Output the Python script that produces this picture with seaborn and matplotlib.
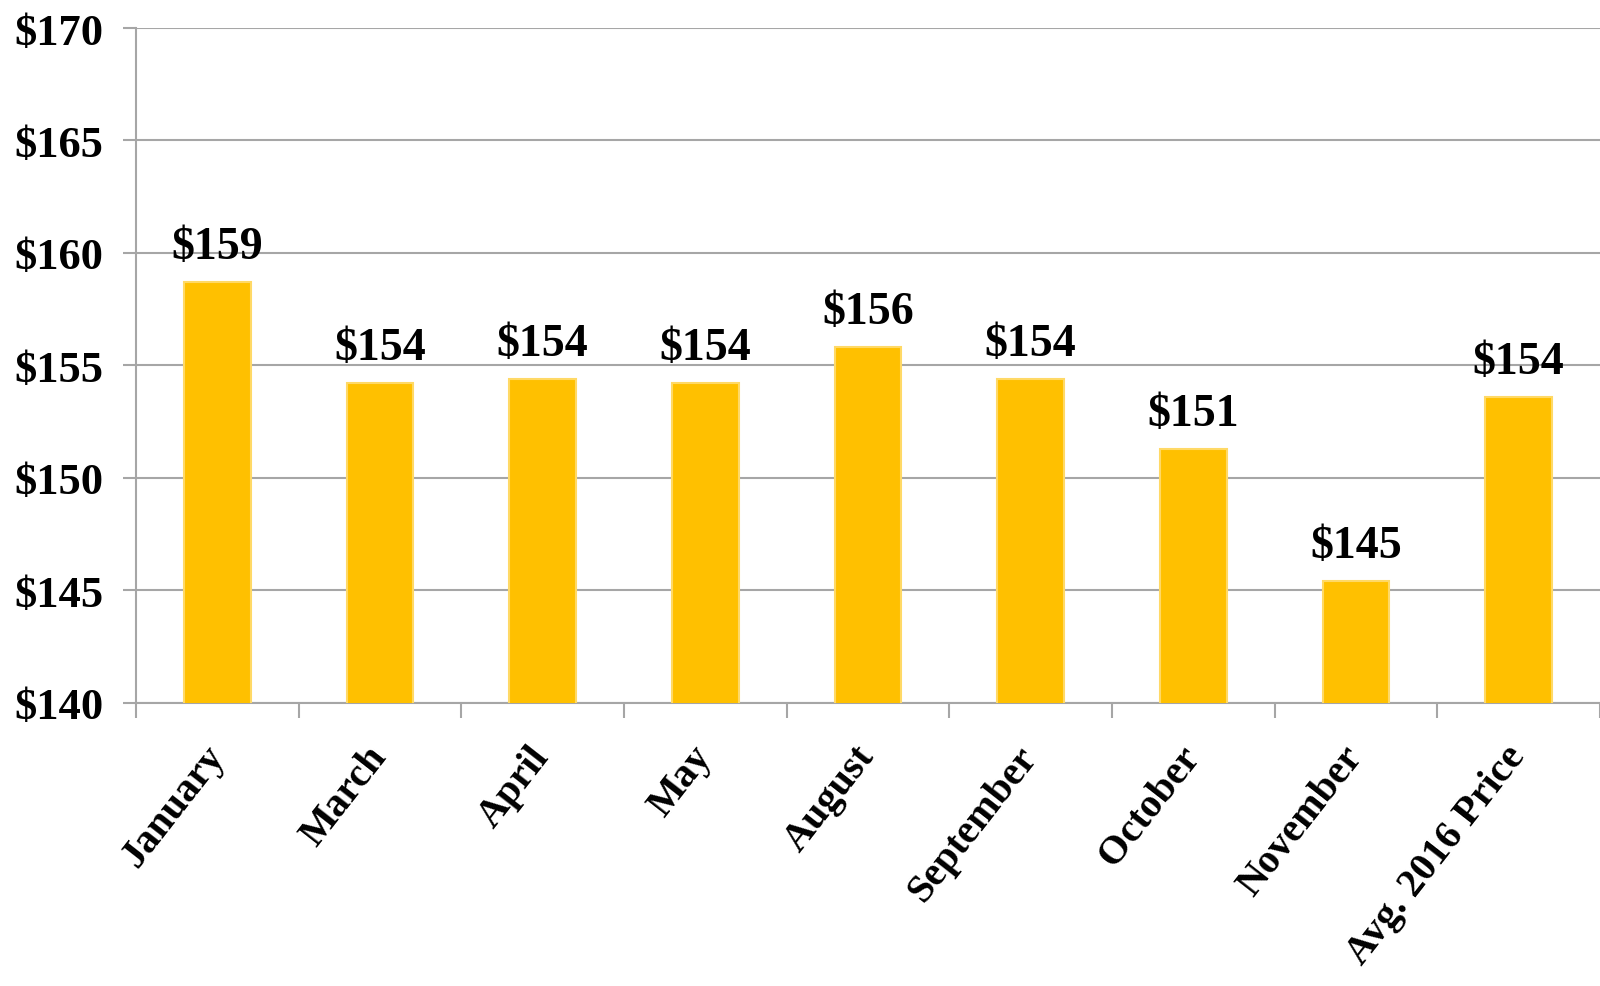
import matplotlib
matplotlib.use("Agg")
import matplotlib.pyplot as plt
import seaborn as sns
import numpy as np
import pandas as pd
from matplotlib.ticker import FixedLocator, FuncFormatter

categories = ["January", "March", "April", "May", "August", "September",
              "October", "November", "Avg. 2016 Price"]
prices = [158.7, 154.2, 154.4, 154.2, 155.8, 154.4, 151.3, 145.4, 153.6]
y_ticks = [140, 145, 150, 155, 160, 165, 170]

sns.set_theme(style="white")
plt.rcParams['font.family'] = ['Liberation Serif', 'DejaVu Serif']
plt.rcParams['font.weight'] = 'bold'
plt.rcParams['text.color'] = 'black'
plt.rcParams['xtick.labelcolor'] = 'black'
plt.rcParams['ytick.labelcolor'] = 'black'

df = pd.DataFrame({"month": categories, "price": prices})

fig = plt.figure(figsize=(16, 9.87), dpi=100)
ax = fig.add_axes([0.085, 0.287, 0.915, 0.6836])

sns.barplot(data=df, x="month", y="price", color="#FFC000", saturation=1,
            width=0.41, edgecolor="#FFD966", linewidth=1.5, ax=ax, zorder=3)

ax.set_ylim(140, 170)
ax.set_xlim(-0.5, len(categories) - 0.5)
ax.set_yticks(y_ticks)
ax.yaxis.set_major_formatter(FuncFormatter(lambda v, p: f"${v:.0f}"))
ax.grid(axis="y", color="#A6A6A6", linewidth=1.5, zorder=0)
ax.set_axisbelow(True)

for s in ["top", "right"]:
    ax.spines[s].set_visible(False)
for s in ["left", "bottom"]:
    ax.spines[s].set_color("#A6A6A6")
    ax.spines[s].set_linewidth(1.5)

ax.tick_params(axis="y", which="major", length=9.5, width=1.5, color="#A6A6A6",
               labelsize=32, pad=14, left=True, labelcolor="black")
ax.tick_params(axis="x", which="major", length=0, labelsize=29, pad=34,
               labelcolor="black")
ax.xaxis.set_minor_locator(FixedLocator(np.arange(-0.5, len(categories) + 0.5, 1)))
ax.tick_params(axis="x", which="minor", length=10.5, width=1.5, color="#A6A6A6",
               bottom=True)
for lab in ax.get_yticklabels():
    lab.set_fontweight("bold")
for lab in ax.get_xticklabels():
    lab.set_rotation(52)
    lab.set_ha("right")
    lab.set_rotation_mode("anchor")
    lab.set_fontweight("bold")
    lab.set_va("center")

ax.set_xlabel("")
ax.set_ylabel("")

for i, v in enumerate(prices):
    ax.annotate(f"${v:.0f}", (i, v), xytext=(0, 10), textcoords="offset points",
                ha="center", va="bottom", fontsize=33, fontweight="bold",
                color="black", zorder=5)

fig.savefig("out.png", dpi=100)
